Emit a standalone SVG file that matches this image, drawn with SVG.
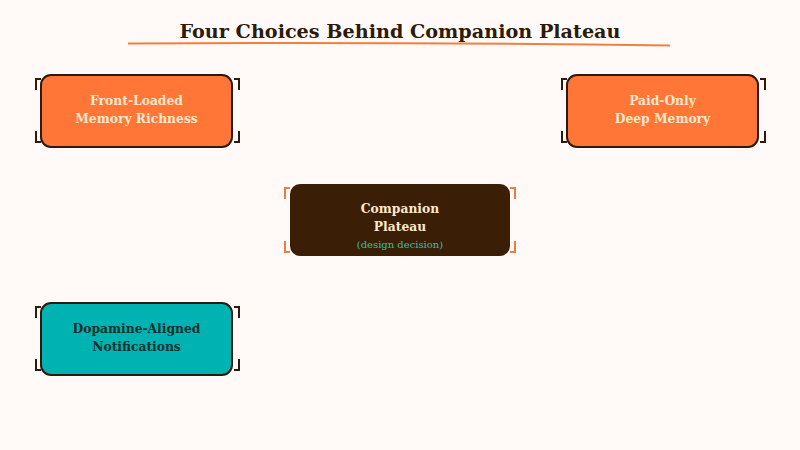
<svg xmlns="http://www.w3.org/2000/svg" width="800" height="450" viewBox="0 0 800 450">
<style>
.bg{fill:#fffaf8}
.node{stroke:#2d1a0a;stroke-width:2}
.warm{fill:#ff7637}
.teal{fill:#00b3b3}
.core{fill:#3a1f06}
.br{fill:none;stroke:#2d1a0a;stroke-width:2}
.brc{fill:none;stroke:#f07a45;stroke-width:2}
.t{font-family:"DejaVu Serif","Liberation Serif",serif;font-weight:bold;font-size:12.3px;text-anchor:middle}
.light{fill:#fde8cc}
.dark{fill:#0f2f2a}
.sub{font-family:"DejaVu Serif","Liberation Serif",serif;font-size:10px;text-anchor:middle;fill:#2ec2a8}
.title{font-family:"DejaVu Serif","Liberation Serif",serif;font-weight:bold;font-size:19.2px;text-anchor:middle;fill:#2d1a0a}
</style>
<rect class="bg" x="0" y="0" width="800" height="450"/>
<g id="title">
<text class="title" x="400" y="38">Four Choices Behind Companion Plateau</text>
<path d="M128 43.5 Q400 42 670 45.5" fill="none" stroke="#f08040" stroke-width="2"/>
</g>
<g id="connectors"></g>
<g id="node-front-loaded">
<rect class="node warm" x="41" y="75" width="191" height="72" rx="10"/>
<path class="br" d="M41 79 H36 V90 M36 131 V142 H41 M234 79 H239 V90 M239 131 V142 H234"/>
<text class="t light" x="136.5" y="104.5">Front-Loaded</text>
<text class="t light" x="136.5" y="122.5">Memory Richness</text>
</g>
<g id="node-paid-only">
<rect class="node warm" x="567" y="75" width="191" height="72" rx="10"/>
<path class="br" d="M567 79 H562 V90 M562 131 V142 H567 M760 79 H765 V90 M765 131 V142 H760"/>
<text class="t light" x="662.5" y="104.5">Paid-Only</text>
<text class="t light" x="662.5" y="122.5">Deep Memory</text>
</g>
<g id="node-companion-plateau">
<rect class="core" x="290" y="184" width="220" height="72" rx="10"/>
<path class="brc" d="M290 188 H285 V199 M285 241 V252 H290 M510 188 H515 V199 M515 241 V252 H510"/>
<text class="t light" x="400" y="213">Companion</text>
<text class="t light" x="400" y="231">Plateau</text>
<text class="sub" x="400" y="247.5">(design decision)</text>
</g>
<g id="node-dopamine">
<rect class="node teal" x="41" y="303" width="191" height="72" rx="10"/>
<path class="br" d="M41 307 H36 V318 M36 359 V370 H41 M234 307 H239 V318 M239 359 V370 H234"/>
<text class="t dark" x="136.5" y="332.5">Dopamine-Aligned</text>
<text class="t dark" x="136.5" y="350.5">Notifications</text>
</g>
</svg>
